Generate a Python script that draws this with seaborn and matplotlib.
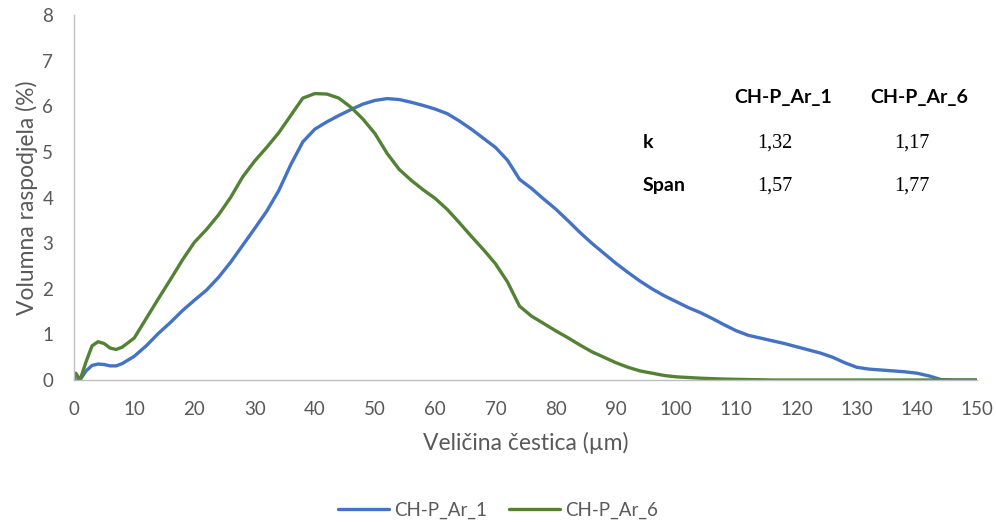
import matplotlib
matplotlib.use("Agg")
import matplotlib.pyplot as plt
import seaborn as sns
import pandas as pd
from matplotlib.lines import Line2D

# ---- data ----
x_ar1 = [0, 1, 2, 3, 4, 5, 6, 7, 8, 10, 12, 14, 16, 18, 20, 22, 24, 26, 28, 30,
         32, 34, 36, 38, 40, 42, 44, 46, 48, 50, 52, 54, 56, 58, 60, 62, 64, 66,
         68, 70, 72, 74, 76, 78, 80, 82, 84, 86, 88, 90, 92, 94, 96, 98, 100,
         102, 104, 106, 108, 110, 112, 114, 116, 118, 120, 122, 124, 126, 128,
         130, 132, 134, 136, 138, 140, 142, 144, 146, 148, 150]
y_ar1 = [0, 0, 0.2, 0.32, 0.35, 0.34, 0.31, 0.31, 0.36, 0.52, 0.75, 1.02, 1.26,
         1.52, 1.75, 1.97, 2.25, 2.58, 2.95, 3.32, 3.7, 4.15, 4.72, 5.22, 5.5,
         5.66, 5.8, 5.93, 6.05, 6.13, 6.17, 6.15, 6.09, 6.02, 5.94, 5.84, 5.68,
         5.5, 5.3, 5.1, 4.82, 4.4, 4.2, 3.97, 3.75, 3.5, 3.24, 3.0, 2.78, 2.56,
         2.36, 2.17, 2.0, 1.85, 1.72, 1.59, 1.48, 1.35, 1.21, 1.08, 0.98, 0.92,
         0.86, 0.8, 0.73, 0.66, 0.59, 0.5, 0.38, 0.28, 0.24, 0.22, 0.2, 0.18,
         0.15, 0.09, 0.01, 0, 0, 0]

x_ar6 = [0, 0.3, 1, 2, 3, 4, 5, 6, 7, 8, 10, 12, 14, 16, 18, 20, 22, 24, 26, 28,
         30, 32, 34, 36, 38, 40, 42, 44, 46, 48, 50, 52, 54, 56, 58, 60, 62, 64,
         66, 68, 70, 72, 74, 76, 78, 80, 82, 84, 86, 88, 90, 92, 94, 96, 98, 100,
         104, 108, 112, 116, 120, 130, 140, 150]
y_ar6 = [0.0, 0.15, 0, 0.4, 0.75, 0.84, 0.8, 0.7, 0.67, 0.72, 0.92, 1.35, 1.78,
         2.2, 2.63, 3.02, 3.3, 3.62, 4.0, 4.45, 4.8, 5.1, 5.42, 5.8, 6.18, 6.28,
         6.27, 6.18, 5.98, 5.72, 5.4, 4.97, 4.62, 4.38, 4.17, 3.98, 3.74, 3.45,
         3.15, 2.86, 2.55, 2.15, 1.62, 1.4, 1.24, 1.08, 0.93, 0.77, 0.62, 0.5,
         0.38, 0.28, 0.2, 0.15, 0.1, 0.07, 0.04, 0.02, 0.01, 0, 0, 0, 0, 0]

series_names = ["CH-P_Ar_1", "CH-P_Ar_6"]
table_rows = ["k", "Span"]
table_ar1 = ["1,32", "1,57"]
table_ar6 = ["1,17", "1,77"]

x_ticks = list(range(0, 151, 10))
y_ticks = list(range(0, 9))

df = pd.concat([
    pd.DataFrame({"x": x_ar1, "y": y_ar1, "s": series_names[0]}),
    pd.DataFrame({"x": x_ar6, "y": y_ar6, "s": series_names[1]}),
])

sns.set_style("white")
plt.rcParams["font.family"] = ["Lato", "DejaVu Sans"]

fig = plt.figure(figsize=(9.96, 5.22), dpi=100)
ax = fig.add_axes([0.0743, 0.272, 0.9067, 0.699])

palette = {series_names[0]: "#4472C4", series_names[1]: "#548235"}
sns.lineplot(data=df, x="x", y="y", hue="s", palette=palette, ax=ax,
             linewidth=2.4, sort=False, legend=False)
for ln in ax.lines:
    ln.set_solid_joinstyle("round")
    ln.set_solid_capstyle("round")

ax.set_xlim(0, 150)
ax.set_ylim(0, 8)
ax.set_xticks(x_ticks)
ax.set_yticks(y_ticks)
ax.tick_params(axis="x", labelsize=13.5, length=4, width=1,
               direction="out", color="#BFBFBF", pad=11)
ax.tick_params(axis="y", labelsize=13.5, length=0, pad=15)
for lab in ax.get_xticklabels() + ax.get_yticklabels():
    lab.set_color("#595959")
for sp in ["top", "right"]:
    ax.spines[sp].set_visible(False)
ax.spines["left"].set_color("#BFBFBF")
ax.spines["bottom"].set_color("#BFBFBF")
ax.spines["left"].set_linewidth(1)
ax.spines["bottom"].set_linewidth(1)

ax.set_xlabel("Veličina čestica (µm)", fontsize=16.5, color="#595959", labelpad=10)
ax.set_ylabel("Volumna raspodjela (%)", fontsize=16.5, color="#595959", labelpad=3)

# inset table as text
hdr_font = dict(fontsize=14, fontweight="bold", color="black",
                family=["Lato", "DejaVu Sans"])
val_font = dict(fontsize=14.5, color="black", family=["Liberation Serif", "DejaVu Serif"])
fig.text(783 / 996, 1 - 98 / 522, series_names[0], ha="center", va="center", **hdr_font)
fig.text(919 / 996, 1 - 98 / 522, series_names[1], ha="center", va="center", **hdr_font)
row_y = [143, 186]
for r, v1, v6, yy in zip(table_rows, table_ar1, table_ar6, row_y):
    fig.text(643 / 996, 1 - yy / 522, r, ha="left", va="center", **hdr_font)
    fig.text(775 / 996, 1 - yy / 522, v1, ha="center", va="center", **val_font)
    fig.text(912 / 996, 1 - yy / 522, v6, ha="center", va="center", **val_font)

# legend
handles = [Line2D([0], [0], color=palette[n], lw=2.4) for n in series_names]
fig.legend(handles, series_names, loc="center", bbox_to_anchor=(0.5, 1 - 510 / 522),
           ncol=2, frameon=False, fontsize=13.5, handlelength=2.7, handletextpad=0.27,
           columnspacing=1.17, labelcolor="#595959")

fig.savefig("out.png", dpi=100)
